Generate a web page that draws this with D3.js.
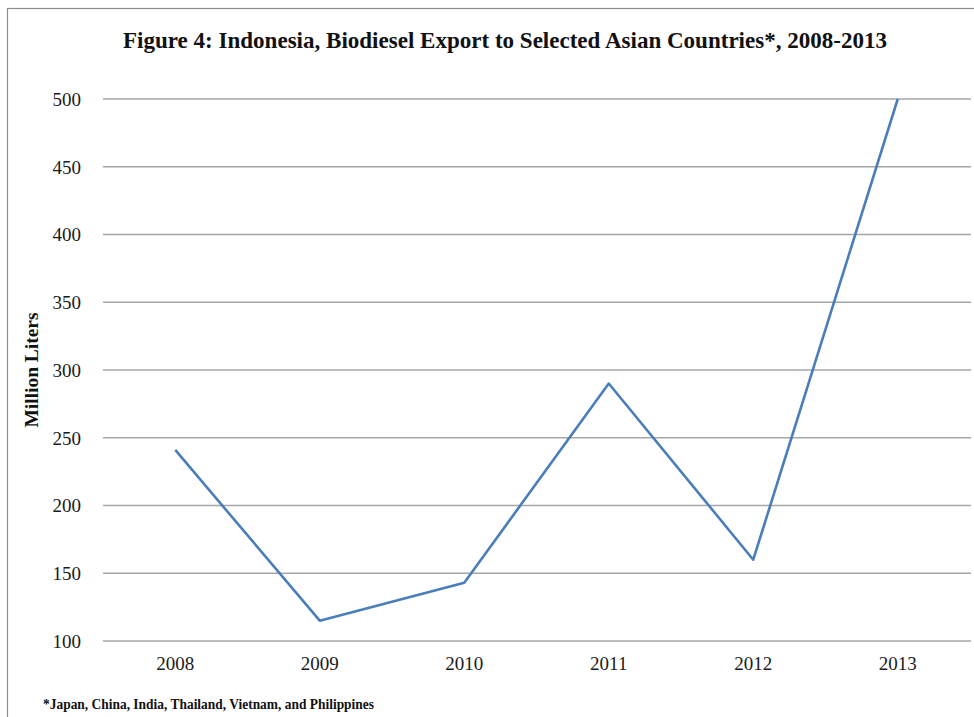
<!DOCTYPE html>
<html>
<head>
<meta charset="utf-8">
<script src="https://cdn.jsdelivr.net/npm/d3@7"></script>
<style>
  html, body { margin: 0; padding: 0; background: #fff; }
  svg { display: block; }
</style>
</head>
<body>
<script>
// Indonesia biodiesel exports to selected Asian countries, million liters
const years = ["2008", "2009", "2010", "2011", "2012", "2013"];
const exportsML = [241, 115, 143, 290, 160, 500];
const yTicks = [100, 150, 200, 250, 300, 350, 400, 450, 500];

const W = 974, H = 717;
const serif = "'Liberation Serif', 'Times New Roman', serif";

const svg = d3.select("body").append("svg")
  .attr("width", W).attr("height", H);

// outer frame
svg.append("rect")
  .attr("x", 7.5).attr("y", 8.5)
  .attr("width", W + 10).attr("height", H + 10)
  .attr("fill", "none").attr("stroke", "#8c8c8c").attr("stroke-width", 1.2);

const x = d3.scaleBand().domain(years)
  .range([103, 970]).paddingInner(0).paddingOuter(0);
const y = d3.scaleLinear().domain([100, 500])
  .range([641, 99]);

// horizontal gridlines
svg.append("g").selectAll("line").data(yTicks).join("line")
  .attr("x1", 103).attr("x2", 971)
  .attr("y1", d => y(d)).attr("y2", d => y(d))
  .attr("stroke", "#a6a6a6").attr("stroke-width", 1.3);

// y axis tick labels
const yAxis = d3.axisLeft(y).tickValues(yTicks).tickSize(0).tickPadding(0);
const gy = svg.append("g").attr("transform", "translate(81,0)").call(yAxis);
gy.select(".domain").remove();
gy.selectAll("text")
  .attr("font-family", serif)
  .attr("font-size", 19).attr("fill", "#1a1a1a").attr("dy", "0.34em");

// x axis labels
const xAxis = d3.axisBottom(x).tickSize(0).tickPadding(0);
const gx = svg.append("g").attr("transform", "translate(0,656)").call(xAxis);
gx.select(".domain").remove();
gx.selectAll("text")
  .attr("font-family", serif)
  .attr("font-size", 19).attr("fill", "#1a1a1a").attr("dy", "0.71em");

// data line
const line = d3.line()
  .x((d, i) => x(years[i]) + x.bandwidth() / 2)
  .y(d => y(d));
svg.append("path").datum(exportsML)
  .attr("d", line)
  .attr("fill", "none")
  .attr("stroke", "#4a7ebb")
  .attr("stroke-width", 2.6)
  .attr("stroke-linejoin", "round");

// title
svg.append("text")
  .attr("x", 505).attr("y", 48)
  .attr("text-anchor", "middle")
  .attr("font-family", serif)
  .attr("font-weight", "bold").attr("font-size", 24)
  .attr("textLength", 764).attr("lengthAdjust", "spacingAndGlyphs")
  .attr("fill", "#111")
  .text("Figure 4: Indonesia, Biodiesel Export to Selected Asian Countries*, 2008-2013");

// y axis title
svg.append("text")
  .attr("transform", "translate(38,370) rotate(-90)")
  .attr("text-anchor", "middle")
  .attr("font-family", serif)
  .attr("font-weight", "bold").attr("font-size", 19)
  .attr("textLength", 115).attr("lengthAdjust", "spacingAndGlyphs")
  .attr("fill", "#111")
  .text("Million  Liters");

// footnote
svg.append("text")
  .attr("x", 43).attr("y", 709)
  .attr("font-family", serif)
  .attr("font-weight", "bold").attr("font-size", 15)
  .attr("textLength", 331).attr("lengthAdjust", "spacingAndGlyphs")
  .attr("fill", "#111")
  .text("*Japan, China, India, Thailand, Vietnam, and Philippines");
</script>
</body>
</html>
